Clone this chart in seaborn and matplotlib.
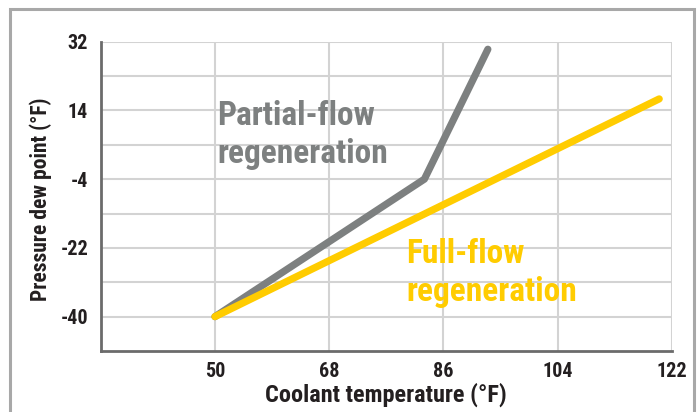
import matplotlib
matplotlib.use("Agg")
import matplotlib.pyplot as plt
import seaborn as sns
import pandas as pd
from matplotlib.patches import Rectangle

# values
partial_x = [50, 83, 93]
partial_y = [-40, -4, 30]
full_x = [50, 120]
full_y = [-40, 17]
x_ticks = [50, 68, 86, 104, 122]
y_ticks = [-40, -22, -4, 14, 32]
y_grid = [-40, -31, -22, -13, -4, 5, 14, 23, 32]

gray = "#7d8080"
yellow = "#ffcc00"
text_col = "#231f20"

sns.set_style("white")
plt.rcParams['font.family'] = ['Roboto Condensed', 'Liberation Sans Narrow', 'Roboto', 'DejaVu Sans']
plt.rcParams['font.weight'] = 'bold'
plt.rcParams['font.stretch'] = 'condensed'
plt.rcParams['axes.unicode_minus'] = False

partial = pd.DataFrame({"x": partial_x, "y": partial_y})
full = pd.DataFrame({"x": full_x, "y": full_y})

fig = plt.figure(figsize=(6.97, 4.12), dpi=100)
ax = fig.add_axes([0.1445, 0.148, 0.8195, 0.751])

# outer frame
fig.patches.append(Rectangle((0.0143, -0.2), 0.9814, 1.178, transform=fig.transFigure,
                             fill=False, edgecolor="#a8a8a8", lw=2.2))

ax.set_xlim(32, 122)
ax.set_ylim(-49, 32)
for gy in y_grid:
    ax.axhline(gy, color="#d3d3d3", lw=1.5, zorder=0)
for gx in x_ticks:
    ax.axvline(gx, color="#d3d3d3", lw=1.5, zorder=0)

sns.lineplot(data=partial, x="x", y="y", sort=False, estimator=None, color=gray,
             lw=5.2, solid_capstyle="round", ax=ax, zorder=3)
sns.lineplot(data=full, x="x", y="y", sort=False, estimator=None, color=yellow,
             lw=5.2, solid_capstyle="round", ax=ax, zorder=4)

ax.set_xticks(x_ticks)
ax.set_yticks(y_ticks)
ax.tick_params(axis="x", length=3, color="#d3d3d3", width=1.5, pad=5,
               labelsize=14.5, labelcolor=text_col)
ax.tick_params(axis="y", length=0, pad=9, labelsize=14.5, labelcolor=text_col)
for lab in ax.get_xticklabels() + ax.get_yticklabels():
    lab.set_fontweight("bold")

for side in ["top", "right"]:
    ax.spines[side].set_visible(False)
for side in ["left", "bottom"]:
    ax.spines[side].set_color("#6b6b6b")
    ax.spines[side].set_linewidth(2)

ax.set_xlabel("Coolant temperature (°F)", fontsize=17.5, fontweight="bold",
              color=text_col, labelpad=1)
ax.set_ylabel("Pressure dew point (°F)", fontsize=15.5, fontweight="bold",
              color=text_col, labelpad=6)
ax.yaxis.label.set_y(0.49)

ax.text(50.4, 16.8, "Partial-flow\nregeneration", color=gray, fontsize=24,
        fontweight="bold", va="top", ha="left", linespacing=1.25)
ax.text(80.2, -19.4, "Full-flow\nregeneration", color=yellow, fontsize=24,
        fontweight="bold", va="top", ha="left", linespacing=1.25)

fig.savefig("out.png", dpi=100)
